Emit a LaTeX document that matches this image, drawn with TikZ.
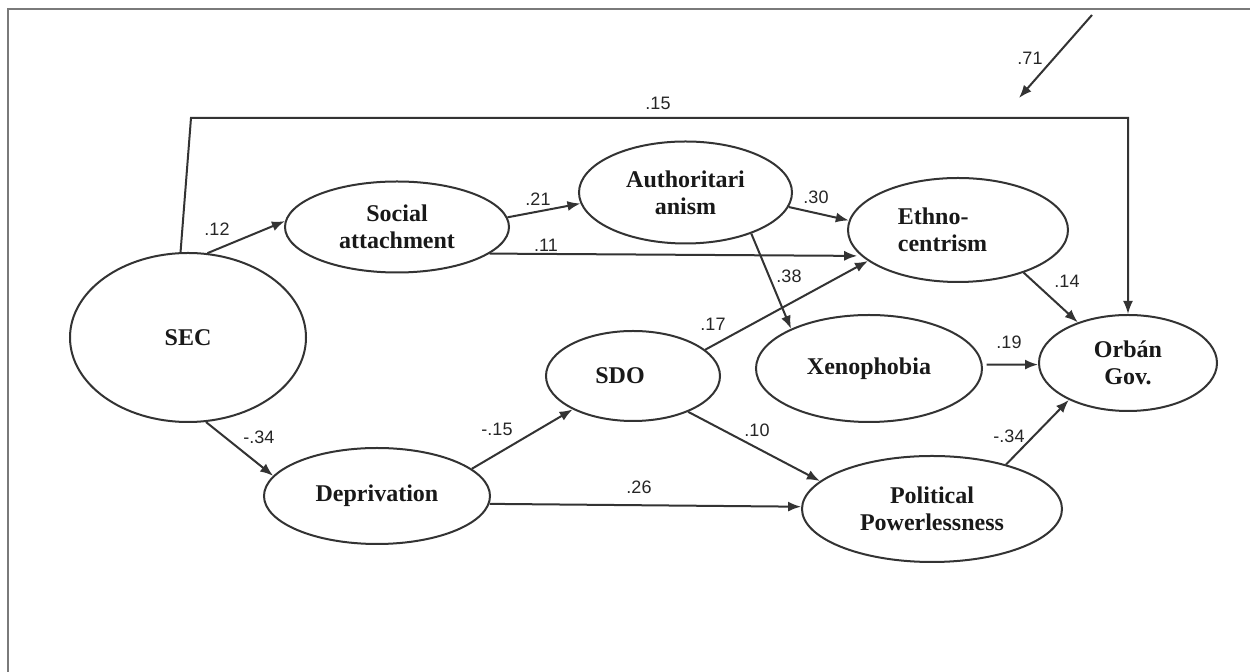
\documentclass[tikz,border=0pt]{standalone}
\usepackage{fontspec}
\setmainfont{Liberation Serif}
\newfontfamily\labfont{Liberation Sans}
\usetikzlibrary{shapes.geometric,arrows.meta}
\definecolor{linec}{HTML}{333333}
\definecolor{framec}{HTML}{7A7A7A}
\begin{document}
\begin{tikzpicture}[x=0.5pt,y=-0.5pt,
  var/.style={ellipse,draw=linec,line width=1pt,inner sep=0pt,align=center,
    font=\fontsize{12}{13.6}\selectfont\bfseries,text=black!90},
  pathar/.style={draw=linec,line width=1pt,-{Latex[length=6.5pt,width=5pt]}},
  coef/.style={font=\labfont\fontsize{9}{11}\selectfont,text=black!85,inner sep=0pt}]
\useasboundingbox[fill=white] (0,0) rectangle (1250,672);
% frame
\coordinate (fa) at (8,672);
\coordinate (fb) at (8,9);
\coordinate (fc) at (1250,9);
\draw[framec,line width=1pt] (fa) -- (fb) -- (fc);

% variables
\node[var,minimum width=118pt,minimum height=84.5pt] (sec) at (188,337.5) {SEC};
\node[var,minimum width=112pt,minimum height=45.5pt] (soc) at (397,227) {Social\\attachment};
\node[var,minimum width=106.5pt,minimum height=51pt] (auth) at (685.5,192.5) {Authoritari\\anism};
\node[var,minimum width=110pt,minimum height=52pt,align=left] (eth) at (958,230) {Ethno-\\centrism\rule{15.5pt}{0pt}};
\node[var,minimum width=87pt,minimum height=45pt] (sdo) at (633,376) {SDO\rule{13pt}{0pt}};
\node[var,minimum width=113pt,minimum height=53.5pt] (xen) at (869,368.5) {Xenophobia};
\node[var,minimum width=89pt,minimum height=48pt] (orb) at (1128,363) {Orbán\\Gov.};
\node[var,minimum width=113pt,minimum height=48pt] (dep) at (377,496) {Deprivation};
\node[var,minimum width=130pt,minimum height=53pt] (pol) at (932,509) {Political\\Powerlessness};

% helper coordinates
\coordinate (tl) at (191,118);
\coordinate (tr) at (orb.north |- tl);
\coordinate (es) at (1092,15);
\coordinate (ee) at (1019,98);

% paths
\draw[pathar] (sec.95) -- (tl) -- (tr) -- (orb.north);
\draw[pathar] (es) -- (ee);
\draw[pathar] (sec.77) -- (soc.177);
\draw[pathar] (soc.5) -- (auth.186);
\draw[pathar,shorten >=2pt] (soc.-16) -- (eth.195);
\draw[pathar] (auth.-8) -- (eth.175);
\draw[pathar] (auth.-32) -- (xen.153);
\draw[pathar] (sdo.20) -- (eth.199);
\draw[pathar] (eth.-33) -- (orb.141);
\draw[pathar,shorten <=2pt] (xen.2) -- (orb.181);
\draw[pathar] (sec.-78) -- (dep.169);
\draw[pathar] (dep.16) -- (sdo.209);
\draw[pathar] (sdo.-33) -- (pol.166);
\draw[pathar] (dep.-4) -- (pol.179);
\draw[pathar] (pol.31) -- (orb.212);

% coefficients
\node[coef] (c15) at (658,103) {.15};
\node[coef] (c71) at (1030,58) {.71};
\node[coef] (c12) at (217,229) {.12};
\node[coef] (c21) at (538,199) {.21};
\node[coef] (c11) at (546,245) {.11};
\node[coef] (c30) at (816,197) {.30};
\node[coef] (c38) at (789,276) {.38};
\node[coef] (c17) at (713,324) {.17};
\node[coef] (c14) at (1067,281) {.14};
\node[coef] (c19) at (1009,342) {.19};
\node[coef] (cm34a) at (259,437) {-.34};
\node[coef] (cm15) at (497,429) {-.15};
\node[coef] (c10) at (757,430) {.10};
\node[coef] (c26) at (639,487) {.26};
\node[coef] (cm34b) at (1009,436) {-.34};
\end{tikzpicture}
\end{document}
